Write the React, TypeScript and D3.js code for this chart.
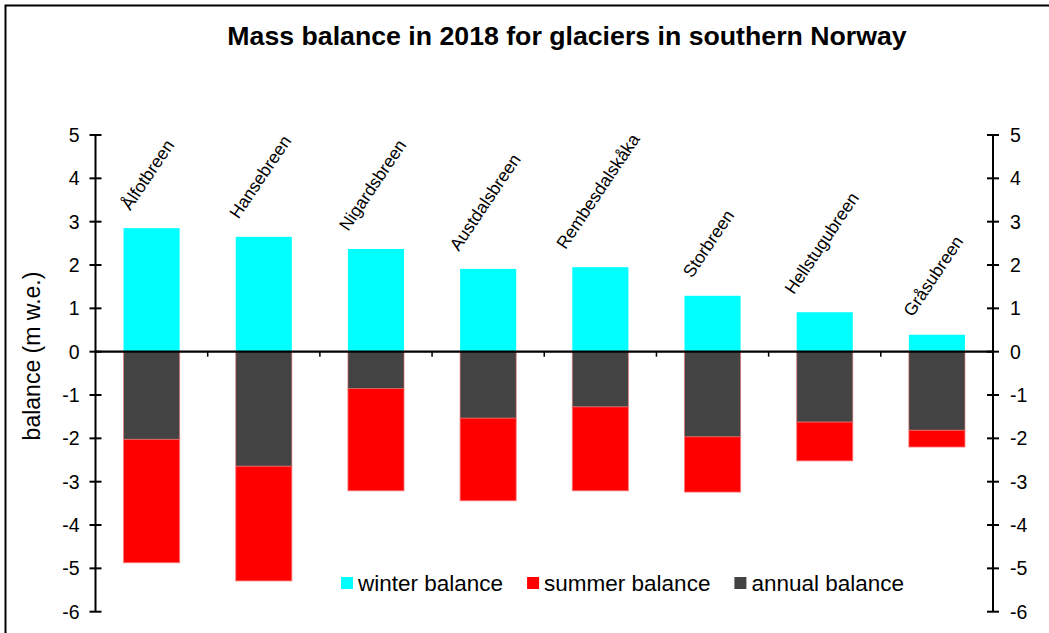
import React from "react";
import * as d3 from "d3";

const categories = [
  "Ålfotbreen",
  "Hansebreen",
  "Nigardsbreen",
  "Austdalsbreen",
  "Rembesdalskåka",
  "Storbreen",
  "Hellstugubreen",
  "Gråsubreen",
];
const winterBalance = [2.85, 2.65, 2.37, 1.91, 1.95, 1.29, 0.91, 0.39];
const summerBalance = [-4.87, -5.29, -3.21, -3.44, -3.21, -3.24, -2.52, -2.2];
const annualBalance = [-2.02, -2.64, -0.85, -1.53, -1.27, -1.96, -1.62, -1.81];
const yTicks = [5, 4, 3, 2, 1, 0, -1, -2, -3, -4, -5, -6];
const legendLabels = ["winter balance", "summer balance", "annual balance"];
const titleText = "Mass balance in 2018 for glaciers in southern Norway";
const yAxisTitle = "balance (m w.e.)";

const W = 1049;
const H = 633;
const FONT = "'Liberation Sans', Arial, Helvetica, sans-serif";
const COLORS = { winter: "#00FFFF", summer: "#FF0000", annual: "#434343" };

let _ctx: CanvasRenderingContext2D | null = null;
function measure(text: string, size: number, weight = "normal") {
  if (!_ctx) _ctx = document.createElement("canvas").getContext("2d");
  if (!_ctx) return text.length * size * 0.5;
  _ctx.font = `${weight} ${size}px "Liberation Sans", Arial, sans-serif`;
  return _ctx.measureText(text).width;
}

export default function App() {
  const left = 95.5;
  const right = 993;
  const y = d3.scaleLinear().domain([-6, 5]).range([611.7, 135]);
  const x = d3
    .scaleBand<string>()
    .domain(categories)
    .range([left, right])
    .paddingInner(0.5)
    .paddingOuter(0.25);
  const step = x.step();
  const bw = x.bandwidth();
  const y0 = y(0);

  const catFont = 17.5;
  const tickFont = 19.5;
  const legendFont = 22.5;

  const boundaries = categories.slice(0, -1).map((c) => (x(c) as number) + bw + step * 0.25);

  // legend layout
  const legendStart = 341;
  const sq = 12;
  let lx = legendStart;
  const legendItems = legendLabels.map((label, i) => {
    const item = { label, x: lx, color: [COLORS.winter, COLORS.summer, COLORS.annual][i] };
    lx += sq + 5 + measure(label, legendFont) + 24;
    return item;
  });

  return (
    <svg
      width={W}
      height={H}
      style={{ position: "absolute", left: 0, top: 0, background: "#fff" }}
      fontFamily={FONT}
    >
      <rect x={0} y={0} width={W} height={H} fill="#fff" />
      {/* frame */}
      <rect x={5.5} y={5.5} width={W + 50} height={H + 50} fill="none" stroke="#000" strokeWidth={2} />

      {/* title */}
      <text x={567} y={45} textAnchor="middle" fontSize={26.7} fontWeight="bold" fill="#000">
        {titleText}
      </text>

      {/* y axis title */}
      <text
        transform={`translate(39.5,${356}) rotate(-90)`}
        textAnchor="middle"
        fontSize={23}
        fill="#000"
      >
        {yAxisTitle}
      </text>

      {/* bars */}
      {categories.map((c, i) => {
        const bx = x(c) as number;
        return (
          <g key={c}>
            <rect x={bx} y={y(winterBalance[i])} width={bw} height={y0 - y(winterBalance[i])} fill={COLORS.winter} />
            <rect
              x={bx}
              y={y(annualBalance[i])}
              width={bw}
              height={y(summerBalance[i]) - y(annualBalance[i])}
              fill={COLORS.summer}
              stroke="rgba(255,120,120,0.8)"
              strokeWidth={1}
            />
            <rect
              x={bx}
              y={y0}
              width={bw}
              height={y(annualBalance[i]) - y0}
              fill={COLORS.annual}
              stroke="rgba(230,110,110,0.6)"
              strokeWidth={1}
            />
          </g>
        );
      })}

      {/* category labels */}
      {categories.map((c, i) => {
        const cx = (x(c) as number) + bw / 2;
        const L = measure(c, catFont);
        const sx = cx - 1.4 - 0.25 * L;
        const sy = y(winterBalance[i]) - 17;
        return (
          <text
            key={"l" + c}
            x={sx}
            y={sy}
            transform={`rotate(-56, ${sx}, ${sy})`}
            fontSize={catFont}
            fill="#000"
          >
            {c}
          </text>
        );
      })}

      {/* zero line */}
      <line x1={left} x2={right} y1={y0} y2={y0} stroke="#000" strokeWidth={2.2} />
      {boundaries.map((bx, i) => (
        <line key={"b" + i} x1={bx} x2={bx} y1={y0} y2={y0 + 5} stroke="#000" strokeWidth={1.5} />
      ))}

      {/* left axis */}
      <line x1={left} x2={left} y1={y(5)} y2={y(-6)} stroke="#000" strokeWidth={2} />
      {yTicks.map((t) => (
        <g key={"lt" + t}>
          <line x1={left - 6} x2={left + 6} y1={y(t)} y2={y(t)} stroke="#000" strokeWidth={2} />
          <text x={left - 16} y={y(t) + 7} textAnchor="end" fontSize={tickFont} fill="#000">
            {t}
          </text>
        </g>
      ))}

      {/* right axis */}
      <line x1={right} x2={right} y1={y(5)} y2={y(-6)} stroke="#000" strokeWidth={2} />
      {yTicks.map((t) => (
        <g key={"rt" + t}>
          <line x1={right - 6} x2={right + 6} y1={y(t)} y2={y(t)} stroke="#000" strokeWidth={2} />
          <text x={right + 17} y={y(t) + 7} textAnchor="start" fontSize={tickFont} fill="#000">
            {t}
          </text>
        </g>
      ))}

      {/* legend */}
      {legendItems.map((it) => (
        <g key={it.label}>
          <rect x={it.x} y={577} width={sq} height={sq} fill={it.color} />
          <text x={it.x + sq + 5} y={591} fontSize={legendFont} fill="#000">
            {it.label}
          </text>
        </g>
      ))}
    </svg>
  );
}
